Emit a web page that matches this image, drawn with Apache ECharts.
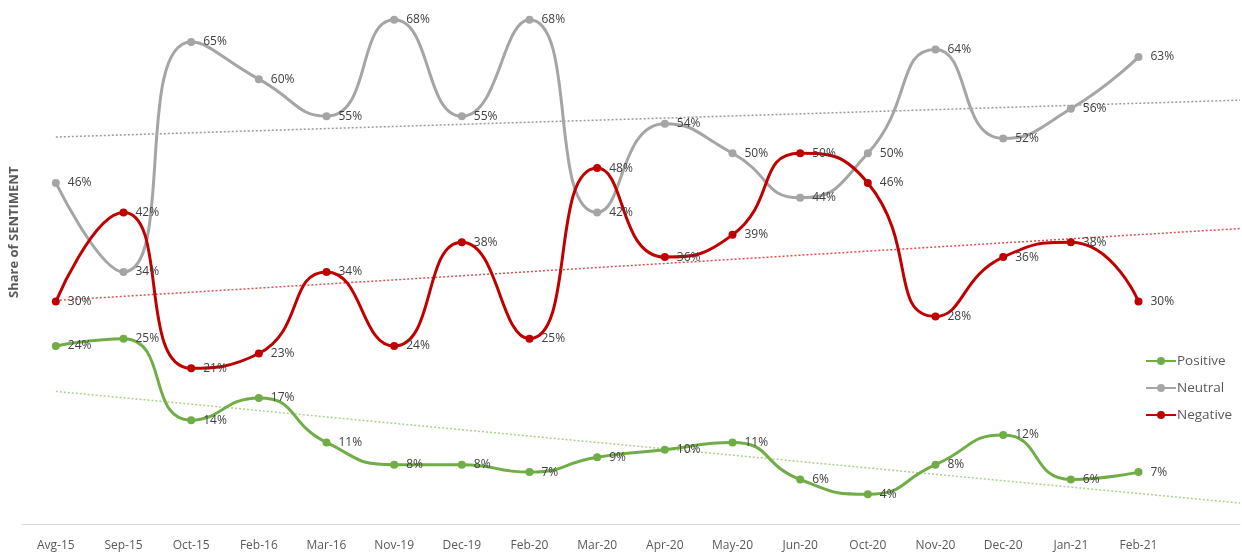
<!DOCTYPE html>
<html>
<head>
<meta charset="utf-8">
<script src="https://cdn.jsdelivr.net/npm/echarts@6/dist/echarts.min.js"></script>
<style>
  html, body { margin: 0; padding: 0; background: #fff; }
  #chart { width: 1242px; height: 555px; }
</style>
</head>
<body>
<div id="chart"></div>
<script>
// Periods shown on the category axis (last slot is left empty for the trend forecast)
const categories = ['Avg-15', 'Sep-15', 'Oct-15', 'Feb-16', 'Mar-16', 'Nov-19', 'Dec-19', 'Feb-20', 'Mar-20',
  'Apr-20', 'May-20', 'Jun-20', 'Oct-20', 'Nov-20', 'Dec-20', 'Jan-21', 'Feb-21', ''];

// Share of sentiment per period, in percent
const positive = [24, 25, 14, 17, 11, 8, 8, 7, 9, 10, 11, 6, 4, 8, 12, 6, 7];
const neutral  = [46, 34, 65, 60, 55, 68, 55, 68, 42, 54, 50, 44, 50, 64, 52, 56, 63];
const negative = [30, 42, 21, 23, 34, 24, 38, 25, 48, 36, 39, 50, 46, 28, 36, 38, 30];

const COLORS = { Positive: '#70ad47', Neutral: '#a5a5a5', Negative: '#c00000' };
const TREND_COLORS = { Positive: '#a9d18e', Neutral: '#9a9a9a', Negative: '#e05050' };
const FONT = '"Open Sans", sans-serif';

// Least-squares linear trend over the period index, drawn from the first point to the plot edge
function trend(values, xEnd) {
  const n = values.length;
  let sx = 0, sy = 0, sxy = 0, sxx = 0;
  values.forEach((y, x) => { sx += x; sy += y; sxy += x * y; sxx += x * x; });
  const slope = (n * sxy - sx * sy) / (n * sxx - sx * sx);
  const icpt = (sy - slope * sx) / n;
  return [[0, icpt], [xEnd, icpt + slope * xEnd]];
}

const X_END = categories.length - 0.5;

function dataSeries(name, values) {
  return {
    name, type: 'line', data: values, smooth: 0.55,
    symbol: 'circle', symbolSize: 8,
    lineStyle: { width: 3, color: COLORS[name] },
    itemStyle: { color: COLORS[name] },
    label: {
      show: true, position: 'right', distance: 8,
      formatter: p => p.value + '%',
      color: '#404040', fontSize: 12, fontFamily: FONT
    },
    z: 3
  };
}

function trendSeries(name, values) {
  return {
    name: name + ' trend', type: 'line', xAxisIndex: 1,
    data: trend(values, X_END), symbol: 'none', silent: true,
    lineStyle: { width: 1.5, type: [2, 2], color: TREND_COLORS[name] },
    z: 2
  };
}

const chart = echarts.init(document.getElementById('chart'), null, { renderer: 'canvas' });
chart.setOption({
  animation: false,
  grid: { left: 22, right: 2, top: 5, bottom: 31 },
  legend: {
    data: ['Positive', 'Neutral', 'Negative'],
    orient: 'vertical', left: 1140, top: 349, itemGap: 13,
    itemWidth: 30, itemHeight: 10,
    textStyle: { color: '#595959', fontSize: 13.5, fontFamily: FONT, padding: [0, 0, 0, -4] }
  },
  xAxis: [{
    type: 'category', data: categories, boundaryGap: true,
    axisLine: { lineStyle: { color: '#d9d9d9', width: 1 } },
    axisTick: { show: false },
    axisLabel: { color: '#595959', fontSize: 12, fontFamily: FONT, margin: 16, interval: 0 }
  }, {
    type: 'value', min: -0.5, max: X_END, show: false
  }],
  yAxis: {
    type: 'value', min: 0, max: 70, show: true,
    axisLine: { show: false }, axisTick: { show: false }, axisLabel: { show: false },
    splitLine: { show: false }
  },
  graphic: [{
    type: 'text', rotation: Math.PI / 2,
    x: 8, y: 298,
    style: { text: 'Share of SENTIMENT', fill: '#595959', font: 'bold 13px "Open Sans", sans-serif' }
  }],
  series: [
    trendSeries('Neutral', neutral),
    trendSeries('Negative', negative),
    trendSeries('Positive', positive),
    dataSeries('Neutral', neutral),
    dataSeries('Negative', negative),
    dataSeries('Positive', positive)
  ]
});
</script>
</body>
</html>
